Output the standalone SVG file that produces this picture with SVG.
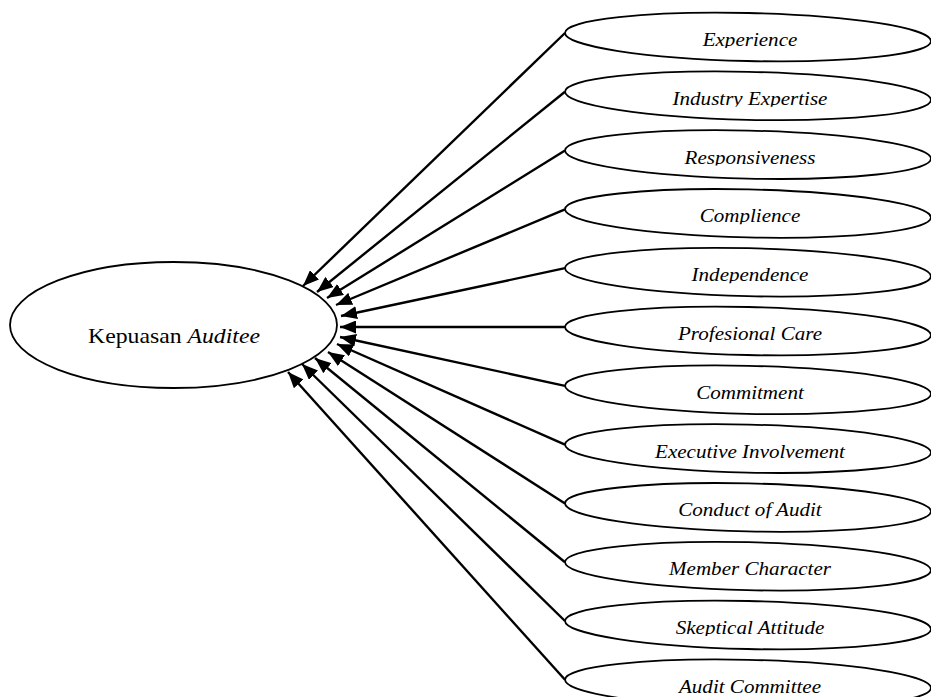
<svg xmlns="http://www.w3.org/2000/svg" width="931" height="697" viewBox="0 0 931 697">
<style>
.node{fill:#fff;stroke:#000;stroke-width:1.8}
.lbl{font-family:"Liberation Serif","Times New Roman",serif;font-size:19.5px;font-style:italic;fill:#000;text-anchor:middle}
.main{font-family:"Liberation Serif","Times New Roman",serif;font-size:21px;fill:#000;text-anchor:middle}
.conn line{stroke:#000;stroke-width:2.4;marker-end:url(#ah)}
</style>
<defs>
<marker id="ah" markerUnits="userSpaceOnUse" markerWidth="17" markerHeight="13" refX="16" refY="6.5" orient="auto" viewBox="0 0 17 13">
<path d="M0,0 L16,6.5 L0,13 z" fill="#000"/>
</marker>
<clipPath id="cut" clipPathUnits="objectBoundingBox"><rect x="-0.1" y="-0.1" width="1.2" height="0.97"/></clipPath>
</defs>
<rect width="931" height="697" fill="#fff"/>
<g id="kepuasan-auditee">
<ellipse class="node" cx="173.5" cy="325" rx="163.5" ry="63"/>
<text class="main" transform="translate(174 343) scale(1.13 1)">Kepuasan <tspan font-style="italic">Auditee</tspan></text>
</g>
<g id="experience"><ellipse class="node" cx="748" cy="37" rx="183" ry="24" transform="rotate(1.3 748 37)"/><text class="lbl" clip-path="url(#cut)" transform="translate(750 46) scale(1.08 1)">Experience</text></g>
<g id="industry-expertise"><ellipse class="node" cx="748" cy="95.8" rx="183" ry="24" transform="rotate(1.3 748 95.8)"/><text class="lbl" clip-path="url(#cut)" transform="translate(750 104.8) scale(1.08 1)">Industry Expertise</text></g>
<g id="responsiveness"><ellipse class="node" cx="748" cy="154.6" rx="183" ry="24" transform="rotate(1.3 748 154.6)"/><text class="lbl" clip-path="url(#cut)" transform="translate(750 163.6) scale(1.08 1)">Responsiveness</text></g>
<g id="complience"><ellipse class="node" cx="748" cy="213.4" rx="183" ry="24" transform="rotate(1.3 748 213.4)"/><text class="lbl" clip-path="url(#cut)" transform="translate(750 222.4) scale(1.08 1)">Complience</text></g>
<g id="independence"><ellipse class="node" cx="748" cy="272.2" rx="183" ry="24" transform="rotate(1.3 748 272.2)"/><text class="lbl" clip-path="url(#cut)" transform="translate(750 281.2) scale(1.08 1)">Independence</text></g>
<g id="profesional-care"><ellipse class="node" cx="748" cy="331" rx="183" ry="24" transform="rotate(1.3 748 331)"/><text class="lbl" clip-path="url(#cut)" transform="translate(750 340) scale(1.08 1)">Profesional Care</text></g>
<g id="commitment"><ellipse class="node" cx="748" cy="389.8" rx="183" ry="24" transform="rotate(1.3 748 389.8)"/><text class="lbl" clip-path="url(#cut)" transform="translate(750 398.8) scale(1.08 1)">Commitment</text></g>
<g id="executive-involvement"><ellipse class="node" cx="748" cy="448.6" rx="183" ry="24" transform="rotate(1.3 748 448.6)"/><text class="lbl" clip-path="url(#cut)" transform="translate(750 457.6) scale(1.08 1)">Executive Involvement</text></g>
<g id="conduct-of-audit"><ellipse class="node" cx="748" cy="507.4" rx="183" ry="24" transform="rotate(1.3 748 507.4)"/><text class="lbl" clip-path="url(#cut)" transform="translate(750 516.4) scale(1.08 1)">Conduct of Audit</text></g>
<g id="member-character"><ellipse class="node" cx="748" cy="566.2" rx="183" ry="24" transform="rotate(1.3 748 566.2)"/><text class="lbl" clip-path="url(#cut)" transform="translate(750 575.2) scale(1.08 1)">Member Character</text></g>
<g id="skeptical-attitude"><ellipse class="node" cx="748" cy="625" rx="183" ry="24" transform="rotate(1.3 748 625)"/><text class="lbl" clip-path="url(#cut)" transform="translate(750 634) scale(1.08 1)">Skeptical Attitude</text></g>
<g id="audit-committee"><ellipse class="node" cx="748" cy="683.8" rx="183" ry="24" transform="rotate(1.3 748 683.8)"/><text class="lbl" clip-path="url(#cut)" transform="translate(750 692.8) scale(1.08 1)">Audit Committee</text></g>
<g id="connectors" class="conn">
<line x1="565" y1="33" x2="303" y2="286"/>
<line x1="565" y1="91.8" x2="317" y2="292"/>
<line x1="565" y1="150.6" x2="327" y2="298"/>
<line x1="565" y1="209.4" x2="336" y2="305"/>
<line x1="565" y1="268.2" x2="341" y2="316"/>
<line x1="565" y1="327" x2="340" y2="327"/>
<line x1="565" y1="385.8" x2="340" y2="337"/>
<line x1="565" y1="444.6" x2="337" y2="344"/>
<line x1="565" y1="503.4" x2="328" y2="352"/>
<line x1="565" y1="562.2" x2="315" y2="358"/>
<line x1="565" y1="621" x2="302" y2="364"/>
<line x1="565" y1="679.8" x2="288" y2="372"/>
</g>
</svg>
